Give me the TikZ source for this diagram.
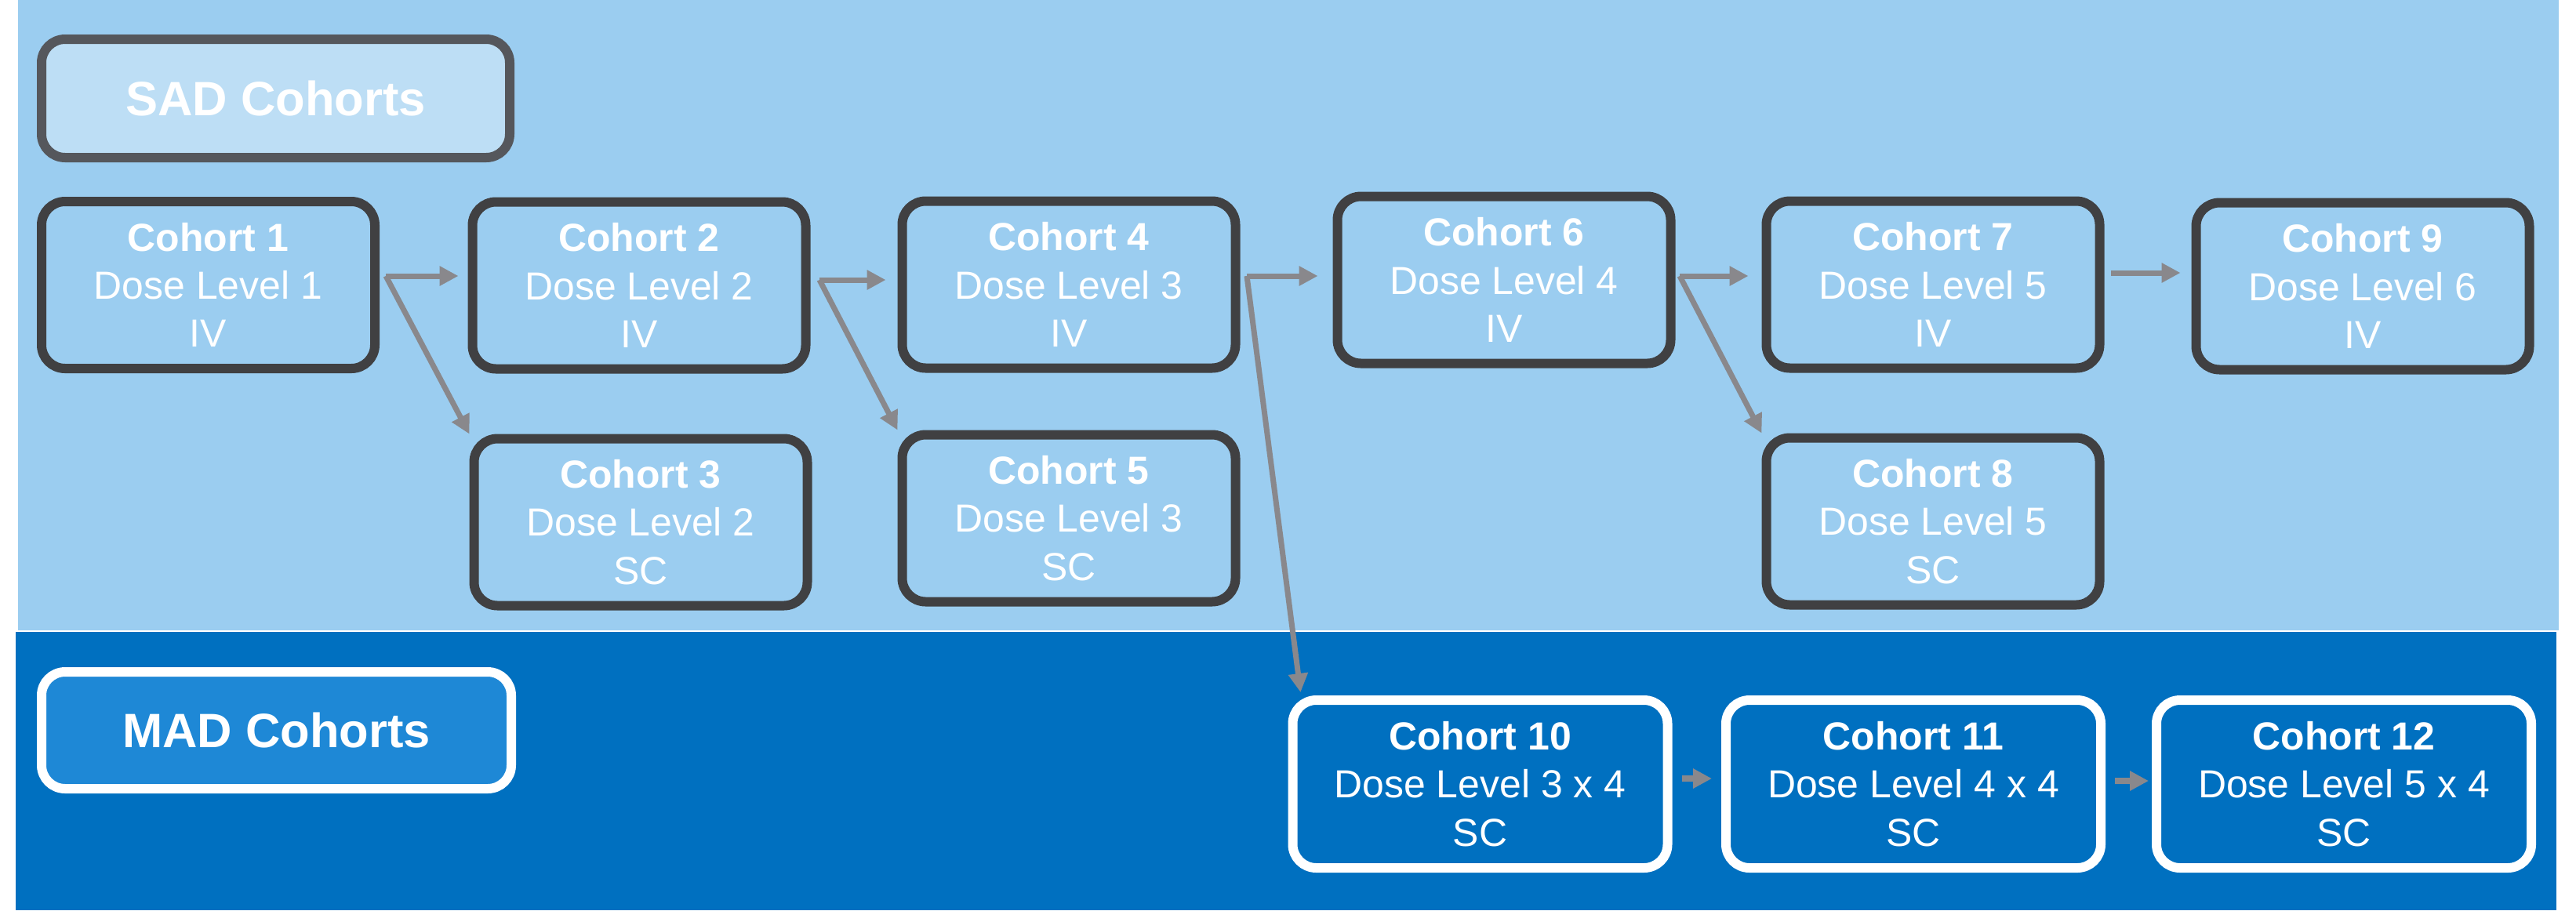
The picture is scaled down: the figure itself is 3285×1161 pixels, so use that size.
\documentclass[tikz,border=0pt]{standalone}
\usepackage{fontspec}
\setmainfont{Liberation Sans}
\usetikzlibrary{arrows.meta,calc}
\definecolor{lightbg}{RGB}{155,205,240}
\definecolor{darkbg}{RGB}{0,112,192}
\definecolor{sadhead}{RGB}{189,222,245}
\definecolor{sadheadborder}{RGB}{85,87,92}
\definecolor{madhead}{RGB}{30,136,214}
\definecolor{boxborder}{RGB}{64,64,66}
\definecolor{arrowgray}{RGB}{137,136,140}
\newcommand\cohortfont{\fontsize{14.2pt}{17.4pt}\selectfont}
\newcommand\headfont{\fontsize{17.5pt}{21pt}\selectfont\bfseries}
\tikzset{
  sadbox/.style={draw=boxborder, line width=1.2mm, rounded corners=3mm,
    text=white, align=center, inner sep=0pt, font=\cohortfont,
    minimum width=42.5mm, minimum height=21.3mm},
  madbox/.style={draw=white, line width=1.2mm, rounded corners=3mm,
    text=white, align=center, inner sep=0pt, font=\cohortfont,
    minimum width=47.8mm, minimum height=21.4mm},
  sadheader/.style={draw=sadheadborder, fill=sadhead, line width=1.2mm, rounded corners=3mm,
    text=white, inner sep=0pt, font=\headfont, minimum width=59.7mm, minimum height=15.1mm},
  madheader/.style={draw=white, fill=madhead, line width=1.2mm, rounded corners=3mm,
    text=white, inner sep=0pt, font=\headfont, minimum width=59.9mm, minimum height=14.9mm},
  arr/.style={draw=arrowgray, line width=0.7mm, -{Triangle[length=2.4mm,width=2.4mm]}},
  marr/.style={draw=arrowgray, line width=0.85mm, -{Triangle[length=2.4mm,width=2.4mm]}}
}
\begin{document}
\begin{tikzpicture}[x=0.1mm,y=-0.1mm]
\useasboundingbox (0,0) rectangle (3285,1161);
\fill[white] (0,0) rectangle (3285,1161);
\fill[lightbg] (23,0) rectangle (3263,804);
\fill[darkbg] (20,806) rectangle (3260,1161);

\node[sadheader] (sad) at (351.5,125.5) {SAD Cohorts};
\node[madheader] (mad) at (352.5,931.5) {MAD Cohorts};

\node[sadbox] (c1) at (265.5,363.5) {\textbf{Cohort 1}\\Dose Level 1\\IV};
\node[sadbox] (c2) at (815,364) {\textbf{Cohort 2}\\Dose Level 2\\IV};
\node[sadbox] (c3) at (817,666) {\textbf{Cohort 3}\\Dose Level 2\\SC};
\node[sadbox] (c4) at (1363,363) {\textbf{Cohort 4}\\Dose Level 3\\IV};
\node[sadbox] (c5) at (1363,661) {\textbf{Cohort 5}\\Dose Level 3\\SC};
\node[sadbox] (c6) at (1918,357) {\textbf{Cohort 6}\\Dose Level 4\\IV};
\node[sadbox] (c7) at (2465,363) {\textbf{Cohort 7}\\Dose Level 5\\IV};
\node[sadbox] (c8) at (2465,665) {\textbf{Cohort 8}\\Dose Level 5\\SC};
\node[sadbox] (c9) at (3013,365) {\textbf{Cohort 9}\\Dose Level 6\\IV};

\node[madbox] (c10) at (1887.5,1000) {\textbf{Cohort 10}\\Dose Level 3 x 4\\SC};
\node[madbox] (c11) at (2440,1000) {\textbf{Cohort 11}\\Dose Level 4 x 4\\SC};
\node[madbox] (c12) at (2989,1000) {\textbf{Cohort 12}\\Dose Level 5 x 4\\SC};

\coordinate (f1) at (492,352);
\coordinate (f2) at (1045,357);
\coordinate (f4) at (1590,352);
\coordinate (f6) at (2142,352);
\coordinate (f7) at (2692,348);

\draw[arr] (f1) -- ($(c2.west |- f1)+(-12,0)$);
\draw[arr] (f1) -- (c3.north west);
\draw[arr] (f2) -- ($(c4.west |- f2)+(-15,0)$);
\draw[arr] (f2) -- (c5.north west);
\draw[arr] (f4) -- ($(c6.west |- f4)+(-19,0)$);
\draw[arr] (f4) -- ($(c10.north west)+(16,-4)$);
\draw[arr] (f6) -- ($(c7.west |- f6)+(-17,0)$);
\draw[arr] (f6) -- (c8.north west);
\draw[arr] (f7) -- ($(c9.west |- f7)+(-14,0)$);

\draw[marr] ($(c10.east)+(12,-7)$) -- ($(c11.west)+(-12,-7)$);
\draw[marr] ($(c11.east)+(12,-4)$) -- ($(c12.west)+(-4,-4)$);
\end{tikzpicture}
\end{document}
